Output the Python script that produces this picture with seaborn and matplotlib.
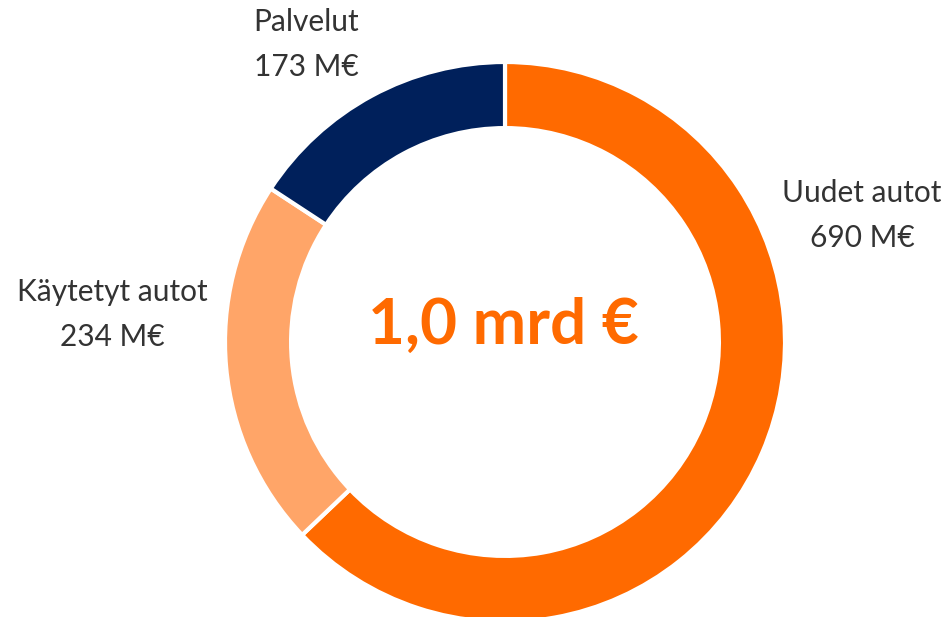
import matplotlib.pyplot as plt
import seaborn as sns

# segment data (clockwise from top)
segments = ['Uudet autot', 'Käytetyt autot', 'Palvelut']
values_meur = [690, 234, 173]
colors = ['#FF6A00', '#FFA568', '#00205B']
center_label = '1,0 mrd €'

sns.set_theme(style="white")
plt.rcParams['font.family'] = ['Lato', 'DejaVu Sans']

fig = plt.figure(figsize=(9.51, 6.17), dpi=100)
ax = fig.add_axes([0, 0, 1, 1])

ax.pie(values_meur, colors=colors, startangle=90, counterclock=False,
       radius=1.0, wedgeprops=dict(width=0.236, edgecolor='white', linewidth=3))

# pixel -> data mapping: center at (505, 342) px, radius 280 px
R = 280.0
cx, cy = 505.0, 342.0
ax.set_xlim(-cx / R, (951 - cx) / R)
ax.set_ylim(-(617 - cy) / R, cy / R)
ax.set_aspect('equal')
ax.axis('off')

def px(x, y):
    return (x - cx) / R, (cy - y) / R

label_pos = {'Uudet autot': (862, 193), 'Käytetyt autot': (112, 292), 'Palvelut': (306, 22)}
for name, val in zip(segments, values_meur):
    x, y = label_pos[name]
    ax.text(*px(x, y), name, ha='center', va='center', fontsize=21.5, color='#333333')
    ax.text(*px(x, y + 45), f'{val} M€', ha='center', va='center', fontsize=21.5,
            color='#333333')

ax.text(*px(503, 325), center_label, ha='center', va='center', fontsize=46,
        fontweight='bold', color='#FF6A00')

fig.savefig('out.png', dpi=100)
